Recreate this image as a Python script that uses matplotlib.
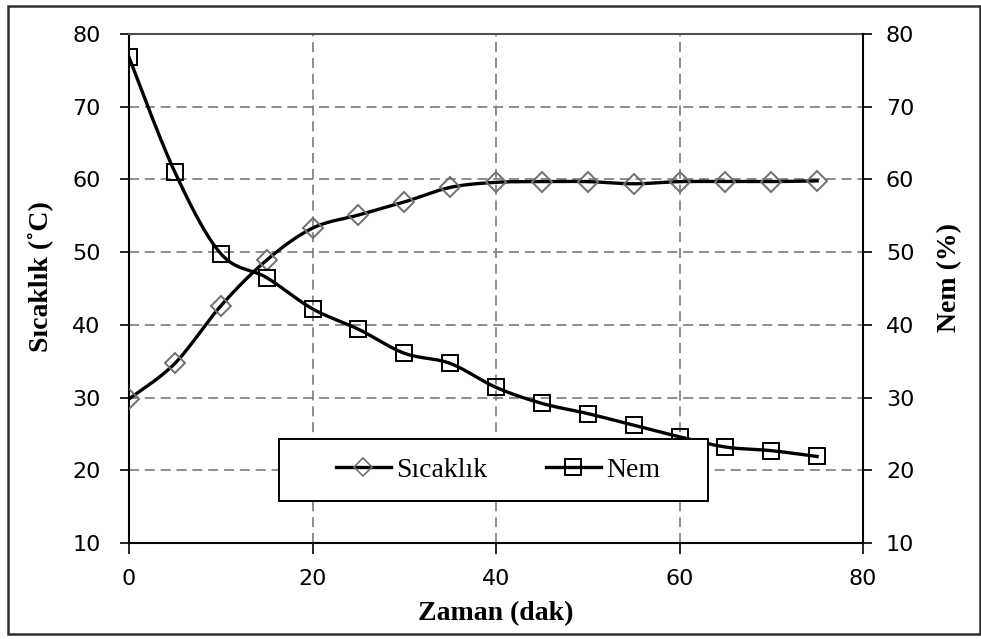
import numpy as np
import matplotlib
matplotlib.use('Agg')
import matplotlib.pyplot as plt
from matplotlib.patches import Rectangle

#--- data
zaman    = [0, 5, 10, 15, 20, 25, 30, 35, 40, 45, 50, 55, 60, 65, 70, 75]
sicaklik = [29.8, 34.7, 42.6, 48.9, 53.3, 55.1, 56.9, 58.9, 59.6,
            59.7, 59.7, 59.4, 59.7, 59.7, 59.7, 59.8]
nem      = [76.8, 61.0, 49.8, 46.5, 42.2, 39.4, 36.1, 34.7, 31.4,
            29.2, 27.8, 26.2, 24.6, 23.2, 22.7, 21.9]

x_ticks = [0, 20, 40, 60, 80]
y_ticks = [10, 20, 30, 40, 50, 60, 70, 80]


def smooth_line(x, y, n=25):
    #--- Excel-like smoothed line (Catmull-Rom as cubic Bezier)
    p = np.column_stack([x, y]).astype(float)
    out = []
    for i in range(len(p) - 1):
        p0 = p[i - 1] if i > 0 else p[i]
        p1 = p[i]
        p2 = p[i + 1]
        p3 = p[i + 2] if i + 2 < len(p) else p[i + 1]
        c1 = p1 + (p2 - p0) / 6.0
        c2 = p2 - (p3 - p1) / 6.0
        t = np.linspace(0, 1, n, endpoint=False)[:, None]
        seg = ((1 - t) ** 3) * p1 + 3 * ((1 - t) ** 2) * t * c1 \
            + 3 * (1 - t) * (t ** 2) * c2 + (t ** 3) * p2
        out.append(seg)
    out.append(p[-1:])
    out = np.vstack(out)
    return out[:, 0], out[:, 1]


W, H = 981, 639
fig = plt.figure(figsize=(W / 100, H / 100), dpi=100)

#--- outer border of the chart area
fig.patches.append(Rectangle((8 / W, 5 / H), (980 - 8) / W, (636 - 8) / H,
                             transform=fig.transFigure, fill=False,
                             edgecolor='#303030', linewidth=1.8))

ax = fig.add_axes([129 / W, 1 - 543 / H, (863 - 129) / W, (543 - 34) / H])

serif = 'Liberation Serif'
sans  = 'DejaVu Sans'

#--- grid
ax.set_axisbelow(True)
ax.grid(True, color='#7a7a7a', linewidth=1.2, linestyle=(0, (6, 3.5)))

#--- lines (smoothed) and markers
xs, ys = smooth_line(zaman, sicaklik)
ax.plot(xs, ys, color='black', linewidth=2.4, zorder=3)
ax.plot(zaman, sicaklik, linestyle='none', marker='D', markersize=10,
        markerfacecolor='none', markeredgecolor='#707070',
        markeredgewidth=1.4, zorder=4)

xn, yn = smooth_line(zaman, nem)
ax.plot(xn, yn, color='black', linewidth=2.4, zorder=3)
ax.plot(zaman, nem, linestyle='none', marker='s', markersize=11,
        markerfacecolor='none', markeredgecolor='black',
        markeredgewidth=1.4, zorder=4)

ax.set_xlim(0, 80)
ax.set_ylim(10, 80)
ax.set_xticks(x_ticks)
ax.set_yticks(y_ticks)

for s in ['left', 'bottom']:
    ax.spines[s].set_linewidth(1.5)
    ax.spines[s].set_color('black')
ax.spines['top'].set_color('#505050')
ax.spines['top'].set_linewidth(1.5)
ax.spines['right'].set_visible(False)

ax.tick_params(axis='y', direction='out', length=6.5, width=1.2,
               pad=14, labelsize=16)
ax.tick_params(axis='x', direction='out', length=8, width=1.2,
               pad=11, labelsize=16)
for lab in ax.get_xticklabels() + ax.get_yticklabels():
    lab.set_family(sans)

#--- right axis
ax2 = ax.twinx()
ax2.set_ylim(10, 80)
ax2.set_yticks(y_ticks)
ax2.patch.set_visible(False)
for s in ['left', 'top', 'bottom']:
    ax2.spines[s].set_visible(False)
ax2.spines['right'].set_linewidth(1.5)
ax2.tick_params(axis='y', direction='out', length=6.5, width=1.2,
                pad=10, labelsize=16)
for lab in ax2.get_yticklabels():
    lab.set_family(sans)

#--- axis titles
ax.set_xlabel('Zaman (dak)', family=serif, fontweight='bold', fontsize=20)
ax.xaxis.set_label_coords(0.5, -0.114)
ax.xaxis.label.set_va('top')

ax.set_ylabel('Sıcaklık (˚C)', family=serif, fontweight='bold', fontsize=20)
ax.yaxis.set_label_coords((40 - 129) / 734, (543 - 277) / 509)
ax.yaxis.label.set_va('center')

ax2.set_ylabel('Nem (%)', family=serif, fontweight='bold', fontsize=20)
ax2.yaxis.set_label_coords((950 - 129) / 734, (543 - 277) / 509)
ax2.yaxis.label.set_va('center')

#--- legend with its own white box
ax.add_patch(Rectangle(((279 - 129) / 734, (543 - 501) / 509),
                       429 / 734, 62 / 509, transform=ax.transAxes,
                       facecolor='white', edgecolor='black',
                       linewidth=1.4, zorder=5, clip_on=False))
h1 = plt.Line2D([], [], color='black', linewidth=2.4, marker='D',
                markersize=9, markerfacecolor='none',
                markeredgecolor='#707070', markeredgewidth=1.2)
h2 = plt.Line2D([], [], color='black', linewidth=2.4, marker='s',
                markersize=11, markerfacecolor='none',
                markeredgecolor='black', markeredgewidth=1.4)
leg = ax.legend([h1, h2], ['Sıcaklık', 'Nem'], ncol=2, loc='center',
                bbox_to_anchor=((498 - 129) / 734, (543 - 470) / 509),
                frameon=False, handlelength=2.0, handletextpad=0.18,
                columnspacing=2.1, prop={'family': serif, 'size': 20},
                numpoints=1)
leg.set_zorder(6)

fig.savefig('out.png', dpi=100)
